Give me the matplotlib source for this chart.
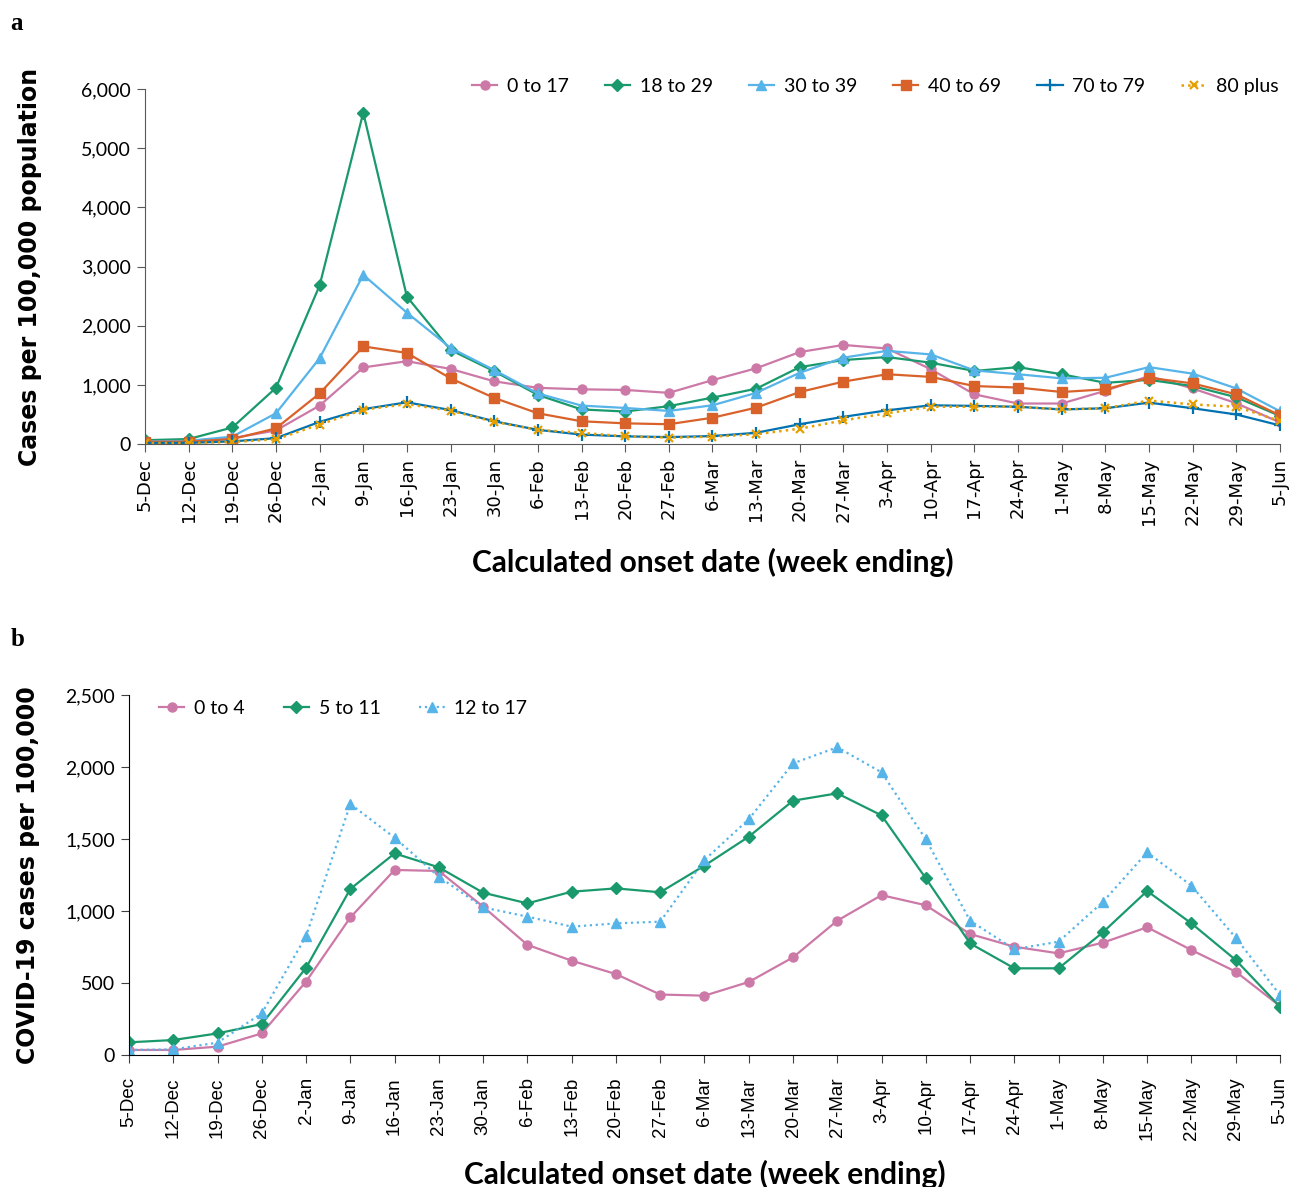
import numpy as np
import matplotlib.pyplot as plt

# Week-ending dates (both panels share them)
weeks = ['5-Dec', '12-Dec', '19-Dec', '26-Dec', '2-Jan', '9-Jan', '16-Jan', '23-Jan',
         '30-Jan', '6-Feb', '13-Feb', '20-Feb', '27-Feb', '6-Mar', '13-Mar', '20-Mar',
         '27-Mar', '3-Apr', '10-Apr', '17-Apr', '24-Apr', '1-May', '8-May', '15-May',
         '22-May', '29-May', '5-Jun']

# Panel a: cases per 100,000 by age group
age_0_17 = [50, 55, 100, 230, 650, 1295, 1400, 1270, 1060, 950, 925, 915, 865, 1080,
            1280, 1555, 1675, 1615, 1265, 840, 685, 685, 900, 1150, 940, 690, 365]
age_18_29 = [65, 85, 280, 950, 2680, 5600, 2490, 1590, 1230, 830, 585, 550, 640, 785,
             935, 1300, 1420, 1470, 1375, 1235, 1300, 1180, 1035, 1085, 980, 790, 475]
age_30_39 = [45, 55, 125, 520, 1450, 2860, 2220, 1625, 1250, 855, 650, 610, 560, 655,
             865, 1205, 1460, 1575, 1515, 1245, 1180, 1110, 1120, 1300, 1190, 940, 555]
age_40_69 = [40, 40, 85, 265, 855, 1650, 1540, 1110, 780, 520, 385, 350, 335, 445,
             615, 880, 1055, 1180, 1135, 980, 955, 880, 925, 1120, 1025, 840, 485]
age_70_79 = [20, 20, 45, 100, 375, 590, 705, 575, 385, 240, 160, 130, 118, 135,
             190, 335, 460, 570, 655, 645, 630, 585, 605, 700, 605, 500, 315]
age_80plus = [17, 17, 35, 80, 330, 580, 675, 565, 375, 240, 190, 130, 108, 125,
              165, 260, 400, 520, 630, 630, 630, 585, 605, 735, 670, 630, 390]

# Panel b: children sub-groups
age_0_4 = [35, 35, 58, 150, 510, 955, 1285, 1278, 1030, 765, 655, 562, 420, 412,
           507, 678, 933, 1110, 1040, 840, 752, 706, 780, 887, 729, 579, 340]
age_5_11 = [88, 104, 150, 215, 606, 1153, 1400, 1303, 1127, 1053, 1134, 1157, 1130, 1315,
            1516, 1766, 1817, 1664, 1227, 775, 602, 602, 852, 1139, 914, 660, 336]
age_12_17 = [35, 39, 86, 289, 826, 1743, 1509, 1238, 1025, 961, 891, 914, 926, 1354,
             1637, 2025, 2137, 1963, 1498, 933, 734, 787, 1063, 1407, 1176, 815, 417]

pink = '#CC79A7'
green = '#1A9A6C'
sky = '#56B4E9'
orange = '#D9622B'
blue = '#0072B2'
gold = '#E69F00'

x = np.arange(len(weeks))

fig = plt.figure(figsize=(12.9, 11.87), dpi=100)

# ---- panel a ----
ax1 = fig.add_axes([0.1124, 0.6259, 0.8798, 0.2991])
ax1.plot(x, age_0_17, '-o', color=pink, ms=6.5, lw=1.6, label='0 to 17')
ax1.plot(x, age_18_29, '-D', color=green, ms=6, lw=1.6, label='18 to 29')
ax1.plot(x, age_30_39, '-^', color=sky, ms=7.5, lw=1.6, label='30 to 39')
ax1.plot(x, age_40_69, '-s', color=orange, ms=7, lw=1.6, label='40 to 69')
ax1.plot(x, age_70_79, '-+', color=blue, ms=8, mew=1.6, lw=1.6, label='70 to 79')
ax1.plot(x, age_80plus, ':x', color=gold, ms=6, mew=1.6, lw=1.8, label='80 plus')

ax1.set_xlim(0, len(weeks) - 1)
ax1.set_ylim(0, 6000)
ax1.set_yticks(np.arange(0, 6001, 1000))
ax1.set_yticklabels([f'{v:,}' for v in range(0, 6001, 1000)], family='Lato', fontsize=14)
ax1.set_xticks(x)
ax1.set_xticklabels(weeks, rotation=90, family='DejaVu Sans', fontsize=13)
ax1.tick_params(axis='both', direction='out', length=6, color='#595959', pad=4)
for s in ['top', 'right']:
    ax1.spines[s].set_visible(False)
for s in ['left', 'bottom']:
    ax1.spines[s].set_color('#595959')
ax1.set_ylabel('Cases per 100,000 population', family='DejaVu Sans',
               fontweight='bold', fontsize=17, labelpad=28)
ax1.set_xlabel('Calculated onset date (week ending)', family='Lato',
               fontweight='bold', fontsize=21.5, labelpad=17)
ax1.legend(loc='upper right', bbox_to_anchor=(1.0146, 1.08), ncol=6, frameon=False,
           prop={'family': 'Lato', 'size': 14}, handlelength=1.3, handletextpad=0.5,
           columnspacing=1.85)

# ---- panel b ----
ax2 = fig.add_axes([0.1, 0.1112, 0.8922, 0.3033])
ax2.plot(x, age_0_4, '-o', color=pink, ms=6.5, lw=1.6, label='0 to 4')
ax2.plot(x, age_5_11, '-D', color=green, ms=6, lw=1.6, label='5 to 11')
ax2.plot(x, age_12_17, ':^', color=sky, ms=7.5, lw=1.6, label='12 to 17')

ax2.set_xlim(0, len(weeks) - 1)
ax2.set_ylim(0, 2500)
ax2.set_yticks(np.arange(0, 2501, 500))
ax2.set_yticklabels([f'{v:,}' for v in range(0, 2501, 500)], family='Lato', fontsize=14)
ax2.set_xticks(x)
ax2.set_xticklabels(weeks, rotation=90, family='Liberation Sans', fontsize=13.5)
ax2.tick_params(axis='both', direction='out', length=6, color='#404040', pad=4)
ax2.tick_params(axis='x', pad=10)
for s in ['top', 'right']:
    ax2.spines[s].set_visible(False)
ax2.set_ylabel('COVID-19 cases per 100,000', family='DejaVu Sans',
               fontweight='bold', fontsize=17, labelpad=18)
ax2.set_xlabel('Calculated onset date (week ending)', family='Lato',
               fontweight='bold', fontsize=21.5, labelpad=14)
ax2.legend(loc='upper left', bbox_to_anchor=(0.011, 1.035), ncol=3, frameon=False,
           prop={'family': 'Lato', 'size': 14}, handlelength=1.3, handletextpad=0.5,
           columnspacing=2.0)

fig.text(0.008, 0.975, 'a', family='Liberation Serif', fontweight='bold', fontsize=18)
fig.text(0.008, 0.456, 'b', family='Liberation Serif', fontweight='bold', fontsize=18)

fig.savefig('out.png', dpi=100)
